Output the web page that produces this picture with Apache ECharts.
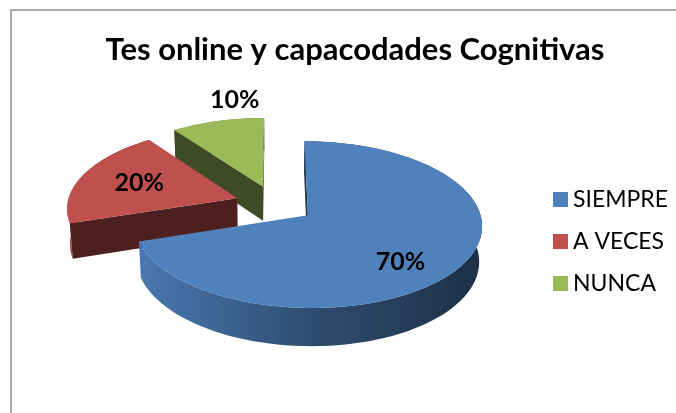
<!DOCTYPE html>
<html>
<head>
<meta charset="utf-8">
<title>Tes online y capacodades Cognitivas</title>
<script src="https://cdn.jsdelivr.net/npm/echarts@6/dist/echarts.min.js"></script>
<style>
html, body { margin: 0; padding: 0; background: #fff; }
#frame { position: absolute; left: 10px; top: 9px; right: 0; bottom: 0; border-top: 2px solid #ababab; border-left: 2px solid #ababab; }
#main { position: absolute; left: 0; top: 0; width: 676px; height: 413px; }
</style>
</head>
<body>
<div id="frame"></div>
<div id="main"></div>
<script>
var categories = ['SIEMPRE', 'A VECES', 'NUNCA'];
var values = [70, 20, 10];
var labels = ['70%', '20%', '10%'];
var colors = ['#4F81BD', '#C0504D', '#9BBB59'];

// 3d pie layout, in pixels
var cx = 275, cy = 204, R = 170, H = 40, explode = 40;
var elev = 28 * Math.PI / 180;
var focal = 9 * R * Math.cos(elev);
var eye = [0, focal * Math.cos(elev), focal * Math.sin(elev)];

var total = values.reduce(function (a, b) { return a + b; }, 0);
var starts = [];
var acc = 0;
values.forEach(function (v) { starts.push(acc / total * 2 * Math.PI); acc += v; });

// u: right, v: towards viewer, h: up
function proj(u, v, h) {
    var d = v * Math.cos(elev) + h * Math.sin(elev);
    var k = focal / (focal - d);
    return [cx + u * k, cy + (v * Math.sin(elev) - h * Math.cos(elev)) * k];
}

function shade(hex, f) {
    var n = parseInt(hex.slice(1), 16);
    var r = Math.round(((n >> 16) & 255) * f);
    var g = Math.round(((n >> 8) & 255) * f);
    var b = Math.round((n & 255) * f);
    return 'rgb(' + r + ',' + g + ',' + b + ')';
}

function renderSlice(i) {
    return function (params, api) {
        var a0 = starts[i];
        var a1 = a0 + api.value(0) / total * 2 * Math.PI;
        var am = (a0 + a1) / 2;
        var ou = explode * Math.sin(am), ov = -explode * Math.cos(am);
        var P = function (a, r, h) {
            return proj(ou + r * R * Math.sin(a), ov - r * R * Math.cos(a), h);
        };
        var n = Math.max(2, Math.ceil((a1 - a0) / 0.03));
        var topRim = [], botRim = [];
        for (var j = 0; j <= n; j++) {
            var a = a0 + (a1 - a0) * j / n;
            topRim.push(P(a, 1, 0));
            botRim.push(P(a, 1, -H));
        }
        var z = Math.round(ov) * 10;
        var children = [];

        // outer wall
        children.push({
            type: 'polygon', z2: z,
            shape: { points: topRim.concat(botRim.slice().reverse()) },
            style: {
                fill: new echarts.graphic.LinearGradient(0, 0, 1, 0, [
                    { offset: 0, color: shade(colors[i], 0.93) },
                    { offset: 0.5, color: shade(colors[i], 0.6) },
                    { offset: 1, color: shade(colors[i], 0.37) }
                ])
            }
        });

        // cut faces, only the ones facing the viewer
        [[a0, -1], [a1, 1]].forEach(function (c) {
            var a = c[0], s = c[1];
            var nu = s * Math.cos(a), nv = s * Math.sin(a);
            var pu = ou + 0.5 * R * Math.sin(a), pv = ov - 0.5 * R * Math.cos(a);
            if (nu * (eye[0] - pu) + nv * (eye[1] - pv) <= 0) return;
            children.push({
                type: 'polygon', z2: z + 1,
                shape: { points: [P(a, 0, 0), P(a, 1, 0), P(a, 1, -H), P(a, 0, -H)] },
                style: { fill: shade(colors[i], 0.4) }
            });
        });

        // top face
        children.push({
            type: 'polygon', z2: z + 2,
            shape: { points: [P(a0, 0, 0)].concat(topRim) },
            style: { fill: colors[i] }
        });

        // label: small slices get it above, near-side slices sit a bit lower
        var lp;
        if (api.value(0) / total < 0.15) {
            var minY = Math.min.apply(null, topRim.map(function (p) { return p[1]; }));
            lp = [P(am, 0.6, 0)[0], minY - 18];
        } else {
            lp = P(am, 0.63, Math.cos(am) < 0 ? -0.4 * H : 0);
        }
        children.push({
            type: 'text', z2: 5000,
            style: {
                text: labels[i], x: lp[0], y: lp[1],
                align: 'center', verticalAlign: 'middle',
                fontFamily: 'Lato', fontWeight: 'bold', fontSize: 25, fill: '#000'
            }
        });

        return { type: 'group', children: children };
    };
}

var myChart = echarts.init(document.getElementById('main'));

var series = categories.map(function (name, i) {
    return {
        type: 'custom',
        name: name,
        coordinateSystem: 'none',
        itemStyle: { color: colors[i] },
        renderItem: renderSlice(i),
        data: [values[i]],
        animation: false
    };
});

var option = {
    backgroundColor: 'transparent',
    title: {
        text: 'Tes online y capacodades Cognitivas',
        left: 350,
        textAlign: 'center',
        top: 29,
        textStyle: { fontFamily: 'Lato', fontWeight: 'bold', fontSize: 31, color: '#000' }
    },
    legend: {
        orient: 'vertical',
        left: 553,
        top: 188,
        padding: 0,
        icon: 'rect',
        itemWidth: 15,
        itemHeight: 15,
        itemGap: 19,
        data: categories,
        textStyle: { fontFamily: 'Lato', fontSize: 23, color: '#000' }
    },
    series: series
};

myChart.setOption(option);
</script>
</body>
</html>
